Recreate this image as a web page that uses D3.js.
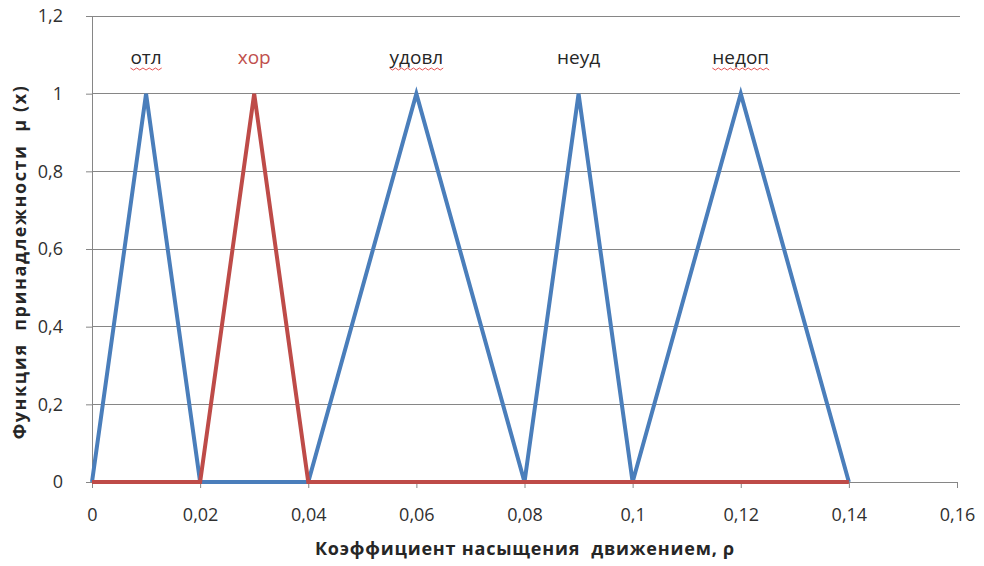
<!DOCTYPE html>
<html><head><meta charset="utf-8">
<script src="https://cdn.jsdelivr.net/npm/d3@7"></script>
<style>
body{margin:0;background:#fff;}
text{font-family:"Open Sans","DejaVu Sans",sans-serif;}
</style></head>
<body><svg id="c" width="984" height="566"></svg>
<script>
const xTicks = [0,0.02,0.04,0.06,0.08,0.1,0.12,0.14,0.16];
const yTicks = [0,0.2,0.4,0.6,0.8,1,1.2];
const blueX = [0,0.01,0.02,0.04,0.06,0.08,0.09,0.1,0.12,0.14];
const blueY = [0,1,0,0,1,0,1,0,1,0];
const redX = [0,0.02,0.03,0.04,0.14];
const redY = [0,0,1,0,0];
const labels = ["отл","хор","удовл","неуд","недоп"];
const labelX = [0.01,0.03,0.06,0.09,0.12];
const labelWavy = [true,false,true,false,true];
const labelRed = [false,true,false,false,false];
const xTitle = "Коэффициент насыщения  движением, ρ";
const yTitle = "Функция  принадлежности  μ (х)";

const svg = d3.select("#c");
const x = d3.scaleLinear().domain([0,0.16]).range([92,957]);
const y = d3.scaleLinear().domain([0,1.2]).range([482,16]);
const fmt = d => String(+d.toFixed(2)).replace(".", ",");

// gridlines
svg.append("g").selectAll("line").data(yTicks.filter(d=>d>0)).join("line")
  .attr("x1",92).attr("x2",960).attr("y1",d=>y(d)).attr("y2",d=>y(d))
  .attr("stroke","#868686").attr("stroke-width",1).attr("shape-rendering","crispEdges");

// y axis
const ya = svg.append("g").attr("transform","translate(92,0)")
  .call(d3.axisLeft(y).tickValues(yTicks).tickFormat(fmt).tickSize(6).tickPadding(23));
ya.select(".domain").attr("stroke","#868686");
ya.selectAll(".tick line").attr("stroke","#868686");
ya.selectAll("text").attr("font-size",18).attr("fill","#303030").attr("font-family","'Open Sans',sans-serif");

// x axis
const xa = svg.append("g").attr("transform","translate(0,482)")
  .call(d3.axisBottom(x).tickValues(xTicks).tickFormat(fmt).tickSize(6).tickPadding(20));
xa.select(".domain").attr("stroke","#868686");
xa.selectAll(".tick line").attr("stroke","#868686");
xa.selectAll("text").attr("font-size",18).attr("fill","#303030").attr("font-family","'Open Sans',sans-serif");

const line = d3.line().x(d=>x(d[0])).y(d=>y(d[1]));
svg.append("path").datum(d3.zip(blueX,blueY)).attr("d",line)
  .attr("fill","none").attr("stroke","#4A7EBB").attr("stroke-width",4).attr("stroke-linejoin","miter");
svg.append("path").datum(d3.zip(redX,redY)).attr("d",line)
  .attr("fill","none").attr("stroke","#BE4B48").attr("stroke-width",4).attr("stroke-linejoin","miter");

// labels
labels.forEach((t,i)=>{
  const tx = svg.append("text").attr("x",x(labelX[i])).attr("y",64)
    .attr("text-anchor","middle").attr("font-size",19)
    .attr("fill",labelRed[i]?"#C0504D":"#262626").text(t);
  if(labelWavy[i]){
    const b = tx.node().getBBox();
    const y0 = 68;
    let p = `M${b.x},${y0}`;
    const n = Math.round(b.width/3);
    for(let k=1;k<=n;k++){ p += `L${b.x+k*b.width/n},${y0+(k%2?2:0)}`; }
    svg.append("path").attr("d",p).attr("fill","none").attr("stroke","#E04040").attr("stroke-width",0.9);
  }
});

// axis titles
svg.append("text").attr("x",525).attr("y",555).attr("text-anchor","middle")
  .style("white-space","pre").attr("letter-spacing",0.8)
  .attr("font-size",18).attr("font-weight","bold").attr("fill","#262626").text(xTitle);
svg.append("text").attr("transform","translate(26,262) rotate(-90)").attr("text-anchor","middle")
  .style("white-space","pre").attr("letter-spacing",1.6)
  .attr("font-size",18).attr("font-weight","bold").attr("fill","#262626").text(yTitle);
</script></body></html>
